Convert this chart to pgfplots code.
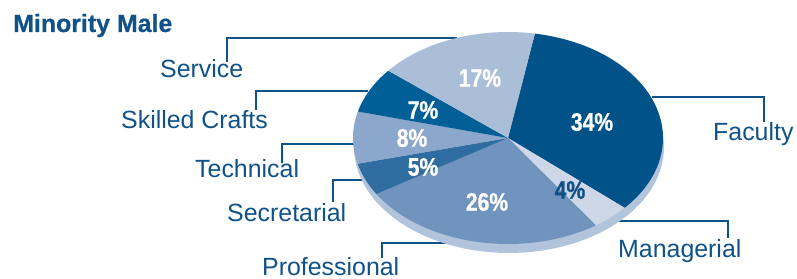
\documentclass[border=0pt]{standalone}
\usepackage{pgfplots}
\pgfplotsset{compat=1.18}
\usepackage{fontspec}
\setmainfont{Liberation Sans}
\newfontfamily\pctfont[FakeStretch=0.83,FakeBold=0.8]{Liberation Sans Bold}
\newfontfamily\ttlfont[FakeBold=0.6]{Liberation Sans Bold}
\definecolor{txtblue}{RGB}{16,82,136}
\definecolor{cFac}{RGB}{0,82,136}
\definecolor{cMan}{RGB}{205,215,232}
\definecolor{cPro}{RGB}{112,148,190}
\definecolor{cSec}{RGB}{47,108,160}
\definecolor{cTec}{RGB}{139,167,203}
\definecolor{cSki}{RGB}{0,95,150}
\definecolor{cSer}{RGB}{171,190,216}
\definecolor{cRim}{RGB}{178,195,220}
\newcommand{\lab}{\fontsize{25}{30}\selectfont\color{txtblue}}
\newcommand{\pct}{\pctfont\fontsize{25.5}{30}\selectfont}
\begin{document}
\begin{tikzpicture}
% percentages (Faculty, Managerial, Professional, Secretarial, Technical, Skilled Crafts, Service)
\pgfmathsetmacro\tot{34+4+26+5+8+7+17}
\pgfmathsetmacro\s{360/\tot}
\pgfmathsetmacro\aA{80}
\pgfmathsetmacro\aB{\aA-34*\s}
\pgfmathsetmacro\aC{\aB-4*\s}
\pgfmathsetmacro\aD{\aC-26*\s}
\pgfmathsetmacro\aE{\aD-5*\s}
\pgfmathsetmacro\aF{\aE-8*\s}
\pgfmathsetmacro\aG{\aF-7*\s}
\pgfmathsetmacro\aH{\aG-17*\s}
\newcommand{\slice}[3]{%
  \addplot[fill=#3, draw=none, domain=#1:#2, samples=80, variable=\t]
    ({508+155*cos(\t)},{141+106*sin(\t)}) -- (axis cs:508,141) -- cycle;}
\begin{axis}[hide axis, scale only axis, width=797bp, height=279bp,
  xmin=0, xmax=797, ymin=0, ymax=279, clip=false]
% leader lines
\addplot[txtblue, line width=1.3pt] coordinates {(457,241) (227,241) (227,217)};
\addplot[txtblue, line width=1.3pt] coordinates {(368,188) (256,188) (256,169)};
\addplot[txtblue, line width=1.3pt] coordinates {(354,135) (282,135) (282,116)};
\addplot[txtblue, line width=1.3pt] coordinates {(363,99) (333,99) (333,77)};
\addplot[txtblue, line width=1.3pt] coordinates {(470,36) (382,36) (382,21)};
\addplot[txtblue, line width=1.3pt] coordinates {(652,182) (764,182) (764,157)};
\addplot[txtblue, line width=1.3pt] coordinates {(609,58) (728,58) (728,41)};
% rim
\addplot[fill=cRim, draw=none, domain=0:360, samples=120, variable=\t]
  ({509+155*cos(\t)},{132+106*sin(\t)}) -- cycle;
% slices
\slice{\aB}{\aA}{cFac}
\slice{\aC}{\aB}{cMan}
\slice{\aD}{\aC}{cPro}
\slice{\aE}{\aD}{cSec}
\slice{\aF}{\aE}{cTec}
\slice{\aG}{\aF}{cSki}
\slice{\aH}{\aG}{cSer}
% percent labels
\node[white, inner sep=0] at (axis cs:592,157) {\pct 34\%};
\node[white, inner sep=0] at (axis cs:480,201) {\pct 17\%};
\node[white, inner sep=0] at (axis cs:423,169) {\pct 7\%};
\node[white, inner sep=0] at (axis cs:412,141) {\pct 8\%};
\node[white, inner sep=0] at (axis cs:423,112) {\pct 5\%};
\node[white, inner sep=0] at (axis cs:487,77) {\pct 26\%};
\node[txtblue, inner sep=0] at (axis cs:570,89) {\pct 4\%};
% category labels
\node[anchor=base west, inner sep=0] at (axis cs:160,201) {\lab Service};
\node[anchor=base west, inner sep=0] at (axis cs:121,150) {\lab Skilled Crafts};
\node[anchor=base west, inner sep=0] at (axis cs:195,101) {\lab Technical};
\node[anchor=base west, inner sep=0] at (axis cs:227,57) {\lab Secretarial};
\node[anchor=base west, inner sep=0] at (axis cs:262,4) {\lab Professional};
\node[anchor=base west, inner sep=0] at (axis cs:713,138) {\lab Faculty};
\node[anchor=base west, inner sep=0] at (axis cs:618,22) {\lab Managerial};
\node[anchor=base west, inner sep=0] at (axis cs:13,247) {\ttlfont\fontsize{25}{30}\selectfont\color{txtblue}Minority Male};
\end{axis}
\pgfresetboundingbox
\useasboundingbox (0,0) rectangle (797bp,279bp);
\end{tikzpicture}
\end{document}
